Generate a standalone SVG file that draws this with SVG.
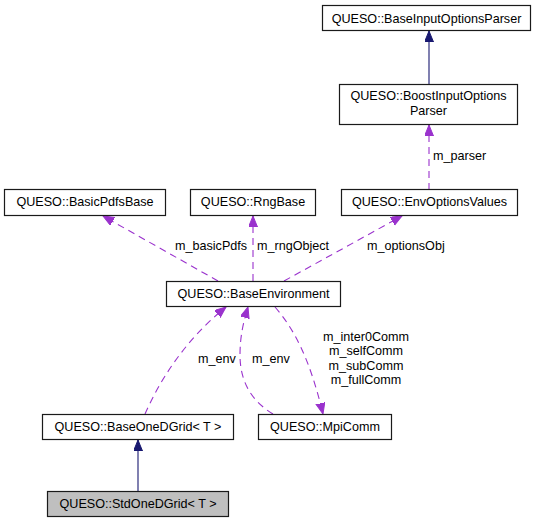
<svg xmlns="http://www.w3.org/2000/svg" width="541" height="523" viewBox="0 0 541 523">
<defs>
<style>
text{font-family:"Liberation Sans",Arial,sans-serif;font-size:12.6px;fill:#000}
.n rect{fill:#fff;stroke:#1a1a1a;stroke-width:1.2}
.n text{text-anchor:middle}
.u{fill:none;stroke:#9a32cd;stroke-width:1.1;stroke-dasharray:7,5}
.b{fill:none;stroke:#191970;stroke-width:1.1}
.mid{text-anchor:middle}
</style>
<marker id="ap" markerUnits="userSpaceOnUse" markerWidth="12" markerHeight="10" refX="11" refY="4.5" orient="auto"><path d="M0,0 L11,4.5 L0,9 z" fill="#9a32cd" stroke="#9a32cd"/></marker>
<marker id="ab" markerUnits="userSpaceOnUse" markerWidth="12" markerHeight="10" refX="11" refY="4.5" orient="auto"><path d="M0,0 L11,4.5 L0,9 z" fill="#191970" stroke="#191970"/></marker>
</defs>
<rect width="541" height="523" fill="#fff"/>
<g id="edges">
<path class="b" d="M429,84 L429,31" marker-end="url(#ab)"/>
<path class="u" d="M429,190 L429,125" marker-end="url(#ap)"/>
<path class="u" d="M218,281 L103,216" marker-end="url(#ap)"/>
<path class="u" d="M253,281 L253,216" marker-end="url(#ap)"/>
<path class="u" d="M284,281 L402,216" marker-end="url(#ap)"/>
<path class="u" d="M145,414 C160,380 185,340 226,307" marker-end="url(#ap)"/>
<path class="u" d="M273,414 C250,400 240,380 240,355 C240,335 244,320 248,307" marker-end="url(#ap)"/>
<path class="u" d="M275,307 C295,330 310,360 323,414" marker-end="url(#ap)"/>
<path class="b" d="M138,491 L138,440" marker-end="url(#ab)"/>
<text x="433" y="160">m_parser</text>
<text x="175" y="250">m_basicPdfs</text>
<text x="257" y="250">m_rngObject</text>
<text x="367" y="250">m_optionsObj</text>
<text x="198" y="363">m_env</text>
<text x="252" y="363">m_env</text>
<text class="mid" x="366" y="341">m_inter0Comm</text>
<text class="mid" x="366" y="355">m_selfComm</text>
<text class="mid" x="366" y="369.5">m_subComm</text>
<text class="mid" x="366" y="383.5">m_fullComm</text>
</g>
<g id="BaseInputOptionsParser" class="n"><rect x="322.5" y="5.5" width="208" height="25"/><text x="426.5" y="22.5">QUESO::BaseInputOptionsParser</text></g>
<g id="BoostInputOptionsParser" class="n"><rect x="339.5" y="84.5" width="178" height="40"/><text x="428.5" y="100">QUESO::BoostInputOptions</text><text x="428.5" y="114.5">Parser</text></g>
<g id="BasicPdfsBase" class="n"><rect x="4.5" y="189.5" width="161" height="26"/><text x="85" y="206">QUESO::BasicPdfsBase</text></g>
<g id="RngBase" class="n"><rect x="190.5" y="189.5" width="125" height="26"/><text x="253" y="206">QUESO::RngBase</text></g>
<g id="EnvOptionsValues" class="n"><rect x="341.5" y="189.5" width="176" height="26"/><text x="429.5" y="206">QUESO::EnvOptionsValues</text></g>
<g id="BaseEnvironment" class="n"><rect x="166.5" y="281.5" width="174" height="25"/><text x="253.5" y="298">QUESO::BaseEnvironment</text></g>
<g id="BaseOneDGrid" class="n"><rect x="42.5" y="414.5" width="191" height="25"/><text x="138" y="431">QUESO::BaseOneDGrid&lt; T &gt;</text></g>
<g id="MpiComm" class="n"><rect x="258.5" y="414.5" width="133" height="25"/><text x="325" y="431">QUESO::MpiComm</text></g>
<g id="StdOneDGrid" class="n"><rect x="47.5" y="491.5" width="181" height="25" style="fill:#bfbfbf"/><text x="138" y="508">QUESO::StdOneDGrid&lt; T &gt;</text></g>
</svg>
